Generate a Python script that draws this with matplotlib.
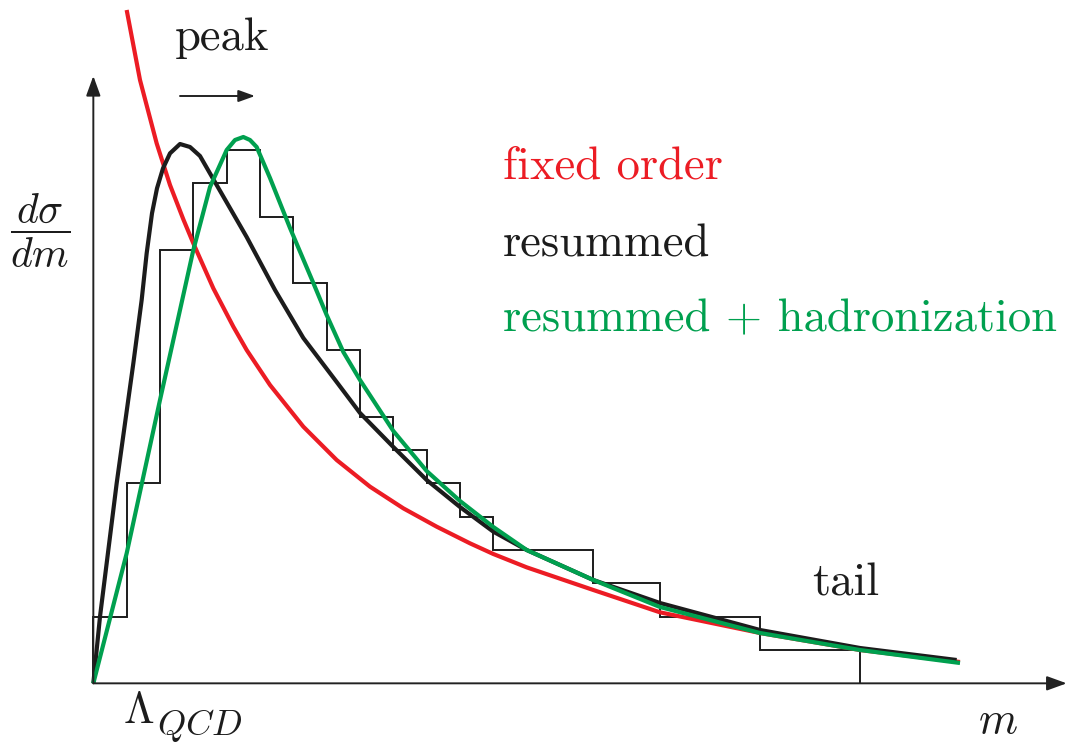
import matplotlib.pyplot as plt
import numpy as np

plt.rcParams['mathtext.fontset'] = 'cm'
plt.rcParams['font.family'] = ['cmr10', 'DejaVu Serif']

##-------------- histogram (schematic, in bin units) --------------
hist_edges = [0, 1, 2, 3, 4, 5, 6, 7, 8, 9, 10, 11, 12, 15, 17, 20, 23]
hist_heights = [2, 6, 13, 15, 16, 14, 12, 10, 8, 7, 6, 5, 4, 3, 2, 1]

##-------------- curves --------------
fixed_x = [1.0, 1.4, 1.9, 2.3, 2.7, 3.0, 3.6, 4.2, 4.6, 5.3, 6.3, 7.3, 8.3,
           9.3, 10.3, 11.3, 12.0, 13.0, 15.0, 17.0, 20.0, 23.0, 26.0]
fixed_y = [20.2, 18.1, 16.2, 14.95, 13.92, 13.2, 11.85, 10.7, 10.0, 8.95,
           7.7, 6.7, 5.9, 5.25, 4.7, 4.2, 3.88, 3.48, 2.8, 2.13, 1.51, 1.0,
           0.64]

resum_x = [0.0, 0.2, 0.7, 1.2, 1.45, 1.6, 1.76, 1.91, 2.09, 2.3, 2.6, 2.9,
           3.2, 3.7, 4.6, 5.45, 6.3, 7.3, 8.0, 9.0, 10.0, 11.0, 12.0, 13.0,
           15.0, 17.0, 20.0, 23.0, 25.9]
resum_y = [0.0, 2.0, 6.0, 9.6, 11.5, 12.9, 14.1, 14.85, 15.45, 15.9, 16.18,
           16.09, 15.82, 14.95, 13.39, 11.8, 10.36, 9.04, 8.11, 7.09, 6.1,
           5.29, 4.55, 4.0, 3.1, 2.41, 1.6, 1.06, 0.7]

had_x = [0.0, 1.0, 1.5, 2.0, 2.6, 3.0, 3.5, 4.0, 4.25, 4.5, 4.7, 4.9, 5.3,
         5.9, 6.6, 7.0, 7.5, 8.0, 9.0, 10.0, 11.0, 12.0, 13.0, 15.0, 17.0,
         20.0, 23.0, 26.0]
had_y = [0.0, 3.9, 6.2, 8.5, 11.2, 13.0, 14.89, 16.0, 16.3, 16.39, 16.3,
         16.09, 15.16, 13.66, 12.01, 11.05, 9.94, 9.1, 7.57, 6.37, 5.47,
         4.69, 4.0, 3.1, 2.29, 1.51, 1.0, 0.61]

red = '#EC1C24'
green = '#00A04F'
dark = '#1c1c1c'

fig = plt.figure(figsize=(10.82, 7.46), dpi=100)
ax = fig.add_axes([0, 0, 1, 1])
ax.set_xlim(-2.8, 29.66)
ax.set_ylim(-1.88, 20.5)
ax.axis('off')

# axes with arrow heads
arr = dict(arrowstyle='-|>,head_length=0.55,head_width=0.2', lw=1.4,
           color='#222222', shrinkA=0, shrinkB=0, mutation_scale=22)
ax.annotate('', xy=(29.2, 0), xytext=(0, 0), arrowprops=arr)
ax.annotate('', xy=(0, 18.22), xytext=(0, 0), arrowprops=arr)

ax.stairs(hist_heights, hist_edges, color=dark, lw=1.4)
kw = dict(lw=3, solid_capstyle='butt', solid_joinstyle='round')
ax.plot(fixed_x, fixed_y, color=red, **kw)
ax.plot(resum_x, resum_y, color=dark, **kw)
ax.plot(had_x, had_y, color=green, **kw)

# peak shift arrow
ax.annotate('', xy=(4.85, 17.62), xytext=(2.6, 17.62),
            arrowprops=dict(arrowstyle='-|>,head_length=0.5,head_width=0.18',
                            lw=1.4, color='#222222', shrinkA=0, shrinkB=0,
                            mutation_scale=20))

fs = 33.6
ax.text(2.45, 19.0, "peak", fontsize=fs, color=dark, va='baseline')
ax.text(12.28, 15.15, "fixed order", fontsize=fs, color=red, va='baseline')
ax.text(12.28, 12.8, "resummed", fontsize=fs, color=dark, va='baseline')
ax.text(12.28, 10.55, "resummed + hadronization", fontsize=fs, color=green,
        va='baseline')
ax.text(21.55, 2.65, "tail", fontsize=fs, color=dark, va='baseline')

ax.text(-1.6, 13.58, r"$\dfrac{d\sigma}{dm}$", fontsize=30, color=dark,
        ha='center', va='center')
ax.text(0.9, -1.19, r"$\Lambda$", fontsize=32, color=dark, va='baseline')
ax.text(1.9, -1.55, r"$QCD$", fontsize=26, color=dark, va='baseline')
ax.text(26.55, -1.5, r"$m$", fontsize=32, color=dark, va='baseline')

plt.savefig('out.png', dpi=100)
